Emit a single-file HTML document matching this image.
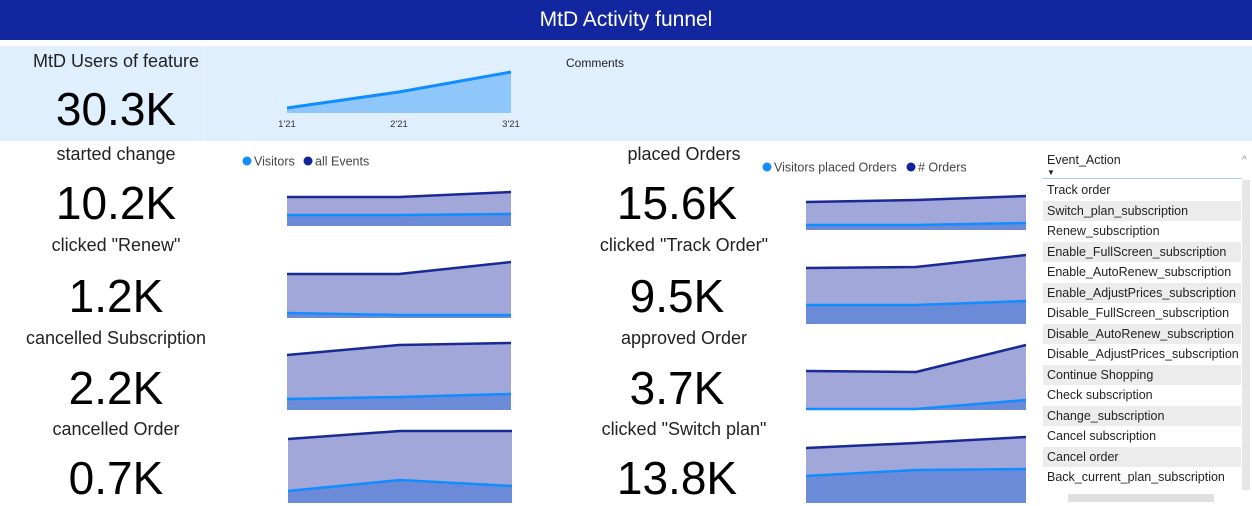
<!DOCTYPE html>
<html><head><meta charset="utf-8"><style>
body{margin:0;width:1252px;height:506px;overflow:hidden;background:#fff;font-family:"Liberation Sans",sans-serif;position:relative}
.abs{position:absolute}
.lbl{position:absolute;width:240px;text-align:center;font-size:18px;line-height:22px;color:#222}
.val{position:absolute;width:240px;text-align:center;font-size:46px;line-height:52px;color:#000}
.row{position:absolute;left:1043px;width:198px;height:20.5px;font-size:12.5px;line-height:20px;padding-left:4px;color:#222;box-sizing:border-box;white-space:nowrap;overflow:hidden}
</style></head><body>
<div class="abs" style="left:0;top:0;width:1252px;height:40px;background:#1226a0;color:#fff;font-size:21px;line-height:40px;text-align:center">MtD Activity funnel</div>
<div class="abs" style="left:0;top:46px;width:1252px;height:95px;background:#dfeffd"></div>
<div class="abs" style="left:203px;top:46px;width:1px;height:95px;background:#e8f3fd"></div>
<div class="abs" style="left:0;top:51px;width:232px;text-align:center;font-size:18px;color:#222">MtD Users of feature</div>
<div class="abs" style="left:0;top:82px;width:232px;text-align:center;font-size:46px;color:#000">30.3K</div>
<div class="abs" style="left:566px;top:56px;font-size:12px;color:#222">Comments</div>

<div class="lbl" style="left:-4px;top:143px">started change</div>
<div class="val" style="left:-4px;top:177px">10.2K</div>
<div class="lbl" style="left:-4px;top:234px">clicked "Renew"</div>
<div class="val" style="left:-4px;top:270px">1.2K</div>
<div class="lbl" style="left:-4px;top:327px">cancelled Subscription</div>
<div class="val" style="left:-4px;top:362px">2.2K</div>
<div class="lbl" style="left:-4px;top:418px">cancelled Order</div>
<div class="val" style="left:-4px;top:452px">0.7K</div>

<div class="lbl" style="left:564px;top:143px">placed Orders</div>
<div class="val" style="left:557px;top:177px">15.6K</div>
<div class="lbl" style="left:564px;top:234px">clicked "Track Order"</div>
<div class="val" style="left:557px;top:270px">9.5K</div>
<div class="lbl" style="left:564px;top:327px">approved Order</div>
<div class="val" style="left:557px;top:362px">3.7K</div>
<div class="lbl" style="left:564px;top:418px">clicked "Switch plan"</div>
<div class="val" style="left:557px;top:452px">13.8K</div>

<svg id="charts" class="abs" style="left:0;top:0" width="1252" height="506">
<g font-size="12.5" fill="#444" font-family="Liberation Sans, sans-serif">
<circle cx="247" cy="161" r="4.5" fill="#118dff"/><text x="254" y="165.5">Visitors</text>
<circle cx="308" cy="161" r="4.5" fill="#12239e"/><text x="315" y="165.5">all Events</text>
</g>
<g font-size="12.5" fill="#444" font-family="Liberation Sans, sans-serif">
<circle cx="767" cy="167" r="4.5" fill="#118dff"/><text x="774" y="171.5">Visitors placed Orders</text>
<circle cx="911" cy="167" r="4.5" fill="#12239e"/><text x="918" y="171.5"># Orders</text>
</g>
</svg>

<div class="abs" style="left:1040px;top:150px;width:212px;height:356px"></div>
<div class="abs" style="left:1047px;top:153px;font-size:12.5px;color:#222">Event_Action</div>
<div class="abs" style="left:1047px;top:168px;font-size:8px;color:#222">▼</div>
<div class="abs" style="left:1042px;top:178px;width:200px;height:1px;background:#aad0f0"></div>
<div class="abs" style="left:1242px;top:180px;width:8px;height:310px;background:#e6e6e6"></div>
<div class="abs" style="left:1242px;top:155px;font-size:10px;color:#888">^</div>
<div class="abs" style="left:1068px;top:494px;width:146px;height:8px;background:#e0e0e0"></div>
<div id="rows"></div>

<script>
const slicerItems = ["Track order","Switch_plan_subscription","Renew_subscription","Enable_FullScreen_subscription","Enable_AutoRenew_subscription","Enable_AdjustPrices_subscription","Disable_FullScreen_subscription","Disable_AutoRenew_subscription","Disable_AdjustPrices_subscription","Continue Shopping","Check subscription","Change_subscription","Cancel subscription","Cancel order","Back_current_plan_subscription"];
const rowsEl = document.getElementById('rows');
slicerItems.forEach((t,i)=>{
  const d=document.createElement('div');
  d.className='row';
  d.style.top=(180+i*20.5)+'px';
  d.style.background=i%2?'#ececec':'#fff';
  d.textContent=t;
  
  
  rowsEl.appendChild(d);
});

// Top KPI trend
const topMonths = ["1'21","2'21","3'21"];
const topUsers = [5,21,41];

// Sparkline data (3 months each)
const startedEvents=[29,29,34], startedVisitors=[11,11,12];
const renewEvents=[44,44,56], renewVisitors=[5,3,3];
const cancelSubEvents=[55,65,67], cancelSubVisitors=[11,13,16];
const cancelOrderEvents=[64,72,72], cancelOrderVisitors=[12,23,17];
const placedOrders=[28,30,34], placedVisitors=[5,5,7];
const trackEvents=[56,57,69], trackVisitors=[19,19,23];
const approvedEvents=[39,38,65], approvedVisitors=[1,1,10];
const switchEvents=[55,60,66], switchVisitors=[27,33,34];

const NS='http://www.w3.org/2000/svg';
const svg=document.getElementById('charts');
function mk(tag,attrs){const e=document.createElementNS(NS,tag);for(const k in attrs)e.setAttribute(k,attrs[k]);svg.appendChild(e);return e;}
function xScale(x0,x1,n){return i=>x0+(x1-x0)*i/(n-1);}
function yScale(base){return v=>base-v;}
function area(name,xs,ys,vals,base,fill){
  let d='M'+xs(0)+','+base;
  vals.forEach((v,i)=>d+=' L'+xs(i)+','+ys(v));
  d+=' L'+xs(vals.length-1)+','+base+' Z';
  const e=mk('path',{d,fill});
  
  
}
function line(name,xs,ys,vals,stroke,w){
  const e=mk('polyline',{points:vals.map((v,i)=>xs(i)+','+ys(v)).join(' '),fill:'none',stroke,'stroke-width':w,'stroke-linejoin':'round'});
  
  
}
function spark(name,x0,x1,base,ev,vis){
  const xs=xScale(x0,x1,ev.length), ys=yScale(base);
  area(name+'-events',xs,ys,ev,base,'#a1a7d8');
  area(name+'-visitors',xs,ys,vis,base,'#6b8ad8');
  line(name+'-events',xs,ys,ev,'#1a2a94',2.5);
  line(name+'-visitors',xs,ys,vis,'#118dff',2.5);
}
spark('started-change',287,511,226,startedEvents,startedVisitors);
spark('clicked-renew',287,511,318,renewEvents,renewVisitors);
spark('cancelled-subscription',287,511,410,cancelSubEvents,cancelSubVisitors);
spark('cancelled-order',288,512,503,cancelOrderEvents,cancelOrderVisitors);
spark('placed-orders',806,1026,230,placedOrders,placedVisitors);
spark('track-order',806,1026,324,trackEvents,trackVisitors);
spark('approved-order',806,1026,410,approvedEvents,approvedVisitors);
spark('switch-plan',806,1026,503,switchEvents,switchVisitors);

// top chart
(function(){
  const xs=xScale(287,511,topUsers.length), ys=yScale(113);
  area('users-trend',xs,ys,topUsers,113,'#8fc7fb');
  line('users-trend',xs,ys,topUsers,'#118dff',3);
  topMonths.forEach((m,i)=>{
    const t=mk('text',{x:xs(i),y:127,'font-size':'9.5','text-anchor':'middle',fill:'#333','font-family':'Liberation Sans, sans-serif'});
    t.textContent=m;
    
    
  });
})();
</script>
</body></html>
